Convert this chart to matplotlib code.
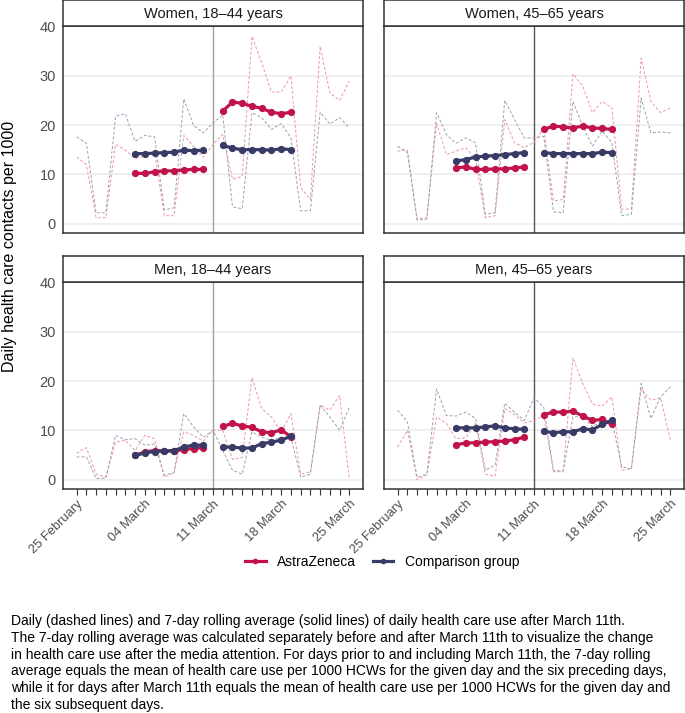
import matplotlib
matplotlib.use("Agg")
import matplotlib.pyplot as plt
from matplotlib.lines import Line2D
import numpy as np

plt.rcParams["font.family"] = ["Liberation Sans", "DejaVu Sans"]

# days since 25 February 2021
days = list(range(29))
pre_days = list(range(6, 14))
post_days = list(range(15, 23))
tick_days = [0, 7, 14, 21, 28]
tick_labels = ["25 February", "04 March", "11 March", "18 March", "25 March"]
media_day = 14

panel_titles = ["Women, 18\u201344 years", "Women, 45\u201365 years",
                "Men, 18\u201344 years", "Men, 45\u201365 years"]

# daily contacts per 1000 (dashed)
women_young_az = [13.5, 12.0, 1.2, 1.2, 16.1, 14.9, 13.2, 13.7, 14.7, 1.6, 1.6, 17.9, 15.7, 13.5, 16.0,
                  18.1, 9.0, 9.6, 38.0, 32.6, 26.7, 26.7, 30.0, 7.3, 4.9, 36.0, 26.5, 25.0, 28.9]
women_young_cmp = [17.6, 16.3, 2.2, 2.2, 21.8, 22.3, 16.7, 17.9, 17.6, 2.8, 3.2, 25.3, 19.9, 18.4, 20.4,
                   22.1, 3.4, 3.0, 22.5, 21.5, 19.1, 20.3, 17.4, 2.6, 2.6, 22.6, 20.2, 21.5, 19.4]
women_old_az = [14.7, 15.0, 0.9, 1.2, 20.4, 14.0, 14.7, 15.4, 13.0, 1.2, 1.6, 21.1, 16.4, 15.4, 16.5,
                19.4, 4.6, 4.9, 30.4, 27.9, 22.5, 24.8, 23.5, 2.9, 3.0, 33.6, 24.8, 22.5, 23.5]
women_old_cmp = [15.7, 14.4, 0.7, 0.9, 22.5, 18.1, 16.3, 17.4, 16.4, 1.9, 2.2, 25.0, 21.1, 17.4, 17.4,
                 17.7, 2.4, 2.2, 24.8, 19.8, 15.7, 18.8, 16.4, 1.6, 1.9, 25.5, 18.4, 18.6, 18.4]
men_young_az = [5.3, 6.5, 1.1, 0.5, 7.6, 8.0, 5.9, 9.0, 8.3, 0.5, 1.4, 9.7, 9.0, 7.8, 10.0,
                10.0, 4.1, 4.5, 20.7, 14.4, 12.7, 9.7, 13.4, 1.1, 1.6, 15.1, 14.1, 17.1, 0.0]
men_young_cmp = [4.6, 4.6, 0.2, 0.3, 9.0, 8.1, 8.3, 7.0, 7.2, 0.9, 1.4, 13.4, 10.7, 8.6, 10.0,
                 5.9, 1.9, 1.1, 9.7, 8.6, 8.0, 8.6, 8.6, 0.5, 1.1, 15.1, 12.7, 10.0, 14.7]
men_old_az = [6.6, 10.0, 0.0, 0.9, 12.7, 11.4, 8.3, 8.5, 11.4, 1.1, 0.7, 14.4, 13.2, 11.5, 12.0,
              13.0, 1.6, 1.6, 24.7, 19.5, 15.3, 14.9, 16.8, 1.9, 2.2, 18.4, 16.1, 16.6, 8.0]
men_old_cmp = [14.1, 11.7, 0.4, 1.2, 18.4, 13.0, 12.9, 13.7, 12.4, 1.9, 2.9, 15.5, 13.7, 12.0, 16.6,
               14.7, 1.8, 1.8, 12.7, 12.8, 10.7, 12.0, 12.0, 2.6, 2.2, 19.5, 12.4, 16.8, 18.8]

# 7-day rolling averages (solid), before and after March 11th
women_young_az_pre = [10.2, 10.2, 10.5, 10.7, 10.7, 10.9, 11.0, 11.0]
women_young_az_post = [22.8, 24.7, 24.4, 23.8, 23.4, 22.6, 22.3, 22.6]
women_young_cmp_pre = [14.2, 14.2, 14.3, 14.4, 14.5, 14.9, 14.8, 14.9]
women_young_cmp_post = [15.9, 15.3, 15.0, 15.0, 15.0, 14.9, 15.2, 15.0]
women_old_az_pre = [11.3, 11.5, 11.0, 11.0, 11.1, 11.1, 11.3, 11.5]
women_old_az_post = [19.1, 19.8, 19.6, 19.4, 19.8, 19.4, 19.3, 19.1]
women_old_cmp_pre = [12.7, 13.0, 13.5, 13.7, 13.8, 14.0, 14.2, 14.4]
women_old_cmp_post = [14.4, 14.2, 14.2, 14.2, 14.2, 14.2, 14.5, 14.4]
men_young_az_pre = [4.9, 5.6, 5.9, 5.8, 5.8, 6.1, 6.3, 6.5]
men_young_az_post = [10.8, 11.4, 10.9, 10.6, 9.7, 9.5, 10.1, 8.7]
men_young_cmp_pre = [4.9, 5.4, 5.7, 5.8, 5.9, 6.6, 7.0, 7.0]
men_young_cmp_post = [6.6, 6.6, 6.4, 6.4, 7.3, 7.6, 8.0, 8.8]
men_old_az_pre = [7.1, 7.4, 7.5, 7.6, 7.7, 7.8, 8.1, 8.6]
men_old_az_post = [13.2, 13.7, 13.7, 13.9, 12.9, 12.0, 12.2, 11.2]
men_old_cmp_pre = [10.5, 10.5, 10.5, 10.7, 10.9, 10.5, 10.3, 10.2]
men_old_cmp_post = [9.8, 9.5, 9.7, 9.7, 10.3, 10.1, 11.2, 12.0]

AZ_COLOR = "#c1134a"
CMP_COLOR = "#373b66"
AZ_LIGHT = "#ee96ad"
CMP_LIGHT = "#9c9eb8"

panels = [
    (women_young_az, women_young_cmp, women_young_az_pre, women_young_az_post,
     women_young_cmp_pre, women_young_cmp_post),
    (women_old_az, women_old_cmp, women_old_az_pre, women_old_az_post,
     women_old_cmp_pre, women_old_cmp_post),
    (men_young_az, men_young_cmp, men_young_az_pre, men_young_az_post,
     men_young_cmp_pre, men_young_cmp_post),
    (men_old_az, men_old_cmp, men_old_az_pre, men_old_az_post,
     men_old_cmp_pre, men_old_cmp_post),
]

W, H = 685, 713
fig = plt.figure(figsize=(W / 100, H / 100), dpi=100)

lefts = [63, 384]
panel_w = 300
tops = [26, 282]
panel_h = 207
strip_h = 26

for i, (title, data) in enumerate(zip(panel_titles, panels)):
    row, col = divmod(i, 2)
    x0 = lefts[col]
    y_top = tops[row]
    ax = fig.add_axes([x0 / W, 1 - (y_top + panel_h) / H, panel_w / W, panel_h / H])
    strip = fig.add_axes([x0 / W, 1 - y_top / H, panel_w / W, strip_h / H])

    az_daily, cmp_daily, az_pre, az_post, cmp_pre, cmp_post = data

    for y in [0, 10, 20, 30, 40]:
        ax.axhline(y, color="#ebebeb", lw=1.1, zorder=0)
    ax.axvline(media_day, color="#a0a0a0" if col == 0 else "#555555", lw=1.0, zorder=1)

    ax.plot(days, az_daily, color=AZ_LIGHT, lw=0.7, ls=(0, (3, 2)), zorder=2)
    ax.plot(days, cmp_daily, color=CMP_LIGHT, lw=0.7, ls=(0, (3, 2)), zorder=2)
    for xs, ys, c in [(pre_days, az_pre, AZ_COLOR), (post_days, az_post, AZ_COLOR),
                      (pre_days, cmp_pre, CMP_COLOR), (post_days, cmp_post, CMP_COLOR)]:
        ax.plot(xs, ys, color=c, lw=2.3, marker="o", ms=4.2, zorder=3)

    ax.set_xlim(-1.4, 29.4)
    ax.set_ylim(-1.91, 40.1)
    for s in ax.spines.values():
        s.set_color("#333333")
        s.set_linewidth(1.1)

    ax.set_yticks([0, 10, 20, 30, 40])
    ax.tick_params(axis="y", length=0, pad=5, labelsize=10.5, labelcolor="#4d4d4d")
    if col == 1:
        ax.set_yticklabels([])

    ax.set_xticks(tick_days)
    ax.set_xticks(days, minor=True)
    if row == 1:
        ax.set_xticklabels(tick_labels, rotation=45, ha="right", va="top",
                           rotation_mode="anchor", fontsize=9.3, color="#4d4d4d")
        ax.tick_params(axis="x", which="both", length=4.5, width=0.8, color="#333333", pad=2)
    else:
        ax.tick_params(axis="x", which="both", length=0, labelbottom=False)

    strip.set_xticks([])
    strip.set_yticks([])
    strip.set_facecolor("white")
    for s in strip.spines.values():
        s.set_color("#333333")
        s.set_linewidth(1.1)
    strip.text(0.5, 0.48, title, ha="center", va="center", fontsize=10.5,
               color="#1a1a1a", transform=strip.transAxes)

fig.text(10 / W, 1 - 246 / H, "Daily health care contacts per 1000", rotation=90,
         ha="center", va="center", fontsize=11.5)

handles = [Line2D([], [], color=AZ_COLOR, lw=2.3, marker="o", ms=3),
           Line2D([], [], color=CMP_COLOR, lw=2.3, marker="o", ms=3)]
fig.legend(handles, ["AstraZeneca", "Comparison group"], loc="center",
           bbox_to_anchor=(382 / W, 1 - 562 / H), ncol=2, frameon=False,
           fontsize=10, handlelength=1.5, handletextpad=0.8, columnspacing=1.2)

caption = ("Daily (dashed lines) and 7-day rolling average (solid lines) of daily health care use after March 11th.\n"
           "The 7-day rolling average was calculated separately before and after March 11th to visualize the change\n"
           "in health care use after the media attention. For days prior to and including March 11th, the 7-day rolling\n"
           "average equals the mean of health care use per 1000 HCWs for the given day and the six preceding days,\n"
           "while it for days after March 11th equals the mean of health care use per 1000 HCWs for the given day and\n"
           "the six subsequent days.")
fig.text(11 / W, 1 - 614 / H, caption, ha="left", va="top", fontsize=10.0, linespacing=1.25)

fig.savefig("out.png", dpi=100)
